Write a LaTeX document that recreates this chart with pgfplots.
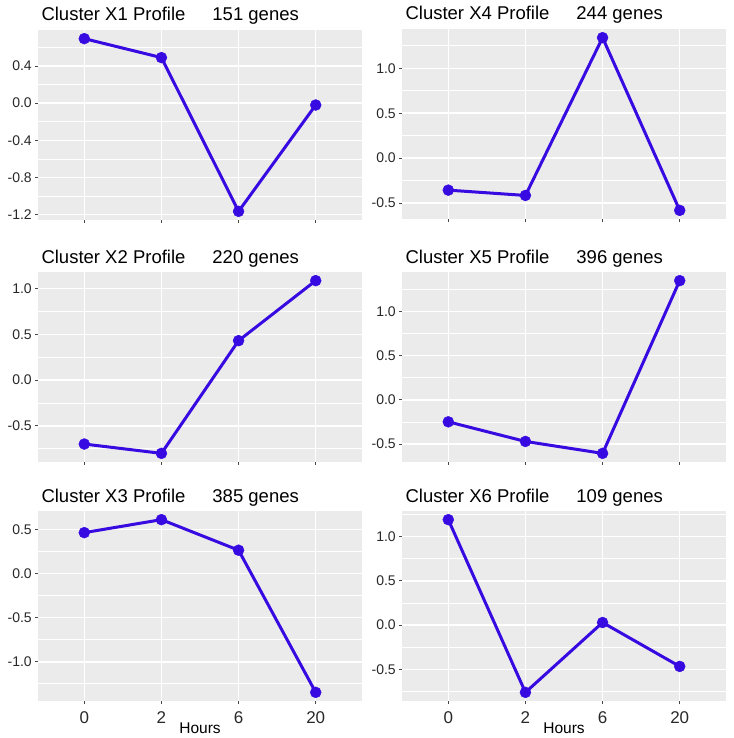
\documentclass[border=0pt]{standalone}
\usepackage{fontspec}
\setmainfont{Liberation Sans}
\usepackage{pgfplots}
\pgfplotsset{compat=1.18}
\definecolor{bgc}{HTML}{EBEBEB}
\definecolor{labc}{RGB}{40,40,40}
\definecolor{tickc}{RGB}{70,70,70}
\definecolor{linec}{RGB}{55,10,225}
\pgfplotsset{
  panel/.style={
    scale only axis, width=324pt, height=190pt,
    anchor=south west,
    xmin=-0.6, xmax=3.6, enlarge x limits=false, enlarge y limits=0.05,
    xtick={0,1,2,3}, xticklabels={},
    xtick pos=bottom, ytick pos=left,
    axis background/.style={fill=bgc},
    axis line style={draw=none},
    xmajorgrids, ymajorgrids, yminorgrids,
    major grid style={white, line width=1.5pt},
    minor grid style={white, line width=0.8pt},
    tick align=outside, major tick length=2.7pt, minor tick length=0pt,
    tick style={tickc, line width=0.9pt},
    yticklabel style={font=\fontsize{14}{16}\selectfont, text=labc},
    yticklabel={\pgfmathprintnumber[fixed,fixed zerofill,precision=1,assume math mode=true]{\tick}},
    title style={at={(0,1)}, anchor=base west, yshift=3pt, font=\fontsize{18.5}{20}\selectfont},
  },
  bottom/.style={
    xticklabels={0,2,6,20},
    xticklabel style={font=\fontsize{17}{18}\selectfont, text=labc, yshift=-4pt},
    xlabel={Hours},
    xlabel style={font=\fontsize{15.5}{17}\selectfont, at={(axis description cs:0.5,0)}, anchor=base, yshift=-32.5pt},
  },
  prof/.style={color=linec, line width=3pt, mark=*, mark size=5.5pt,
    mark options={fill=linec, draw=linec, line width=0.4pt}},
}
\begin{document}
\begin{tikzpicture}
\useasboundingbox (0pt,0pt) rectangle (733pt,-738pt);
% X1
\begin{axis}[panel, at={(38pt,-220pt)},
  title={Cluster X1 Profile\hspace{27pt}151 genes},
  ytick={-1.2,-0.8,-0.4,0,0.4}, minor ytick={-1.0,-0.6,-0.2,0.2,0.6}]
\addplot[prof] coordinates {(0,0.694) (1,0.49) (2,-1.164) (3,-0.02)};
\end{axis}
% X4
\begin{axis}[panel, at={(402pt,-219pt)},
  title={Cluster X4 Profile\hspace{27pt}244 genes},
  ytick={-0.5,0,0.5,1.0}, minor ytick={-0.25,0.25,0.75,1.25}]
\addplot[prof] coordinates {(0,-0.356) (1,-0.415) (2,1.341) (3,-0.581)};
\end{axis}
% X2
\begin{axis}[panel, at={(38pt,-462pt)},
  title={Cluster X2 Profile\hspace{27pt}220 genes},
  ytick={-0.5,0,0.5,1.0}, minor ytick={-0.75,-0.25,0.25,0.75}]
\addplot[prof] coordinates {(0,-0.699) (1,-0.801) (2,0.431) (3,1.087)};
\end{axis}
% X5
\begin{axis}[panel, at={(402pt,-462pt)},
  title={Cluster X5 Profile\hspace{27pt}396 genes},
  ytick={-0.5,0,0.5,1.0}, minor ytick={-0.25,0.25,0.75,1.25}]
\addplot[prof] coordinates {(0,-0.248) (1,-0.47) (2,-0.605) (3,1.35)};
\end{axis}
% X3
\begin{axis}[panel, bottom, at={(38pt,-701pt)},
  title={Cluster X3 Profile\hspace{27pt}385 genes},
  ytick={-1.0,-0.5,0,0.5}, minor ytick={-1.25,-0.75,-0.25,0.25}]
\addplot[prof] coordinates {(0,0.462) (1,0.609) (2,0.263) (3,-1.346)};
\end{axis}
% X6
\begin{axis}[panel, bottom, at={(402pt,-701pt)},
  title={Cluster X6 Profile\hspace{27pt}109 genes},
  ytick={-0.5,0,0.5,1.0}, minor ytick={-0.75,-0.25,0.25,0.75,1.25}]
\addplot[prof] coordinates {(0,1.192) (1,-0.759) (2,0.03) (3,-0.466)};
\end{axis}
\end{tikzpicture}
\end{document}
